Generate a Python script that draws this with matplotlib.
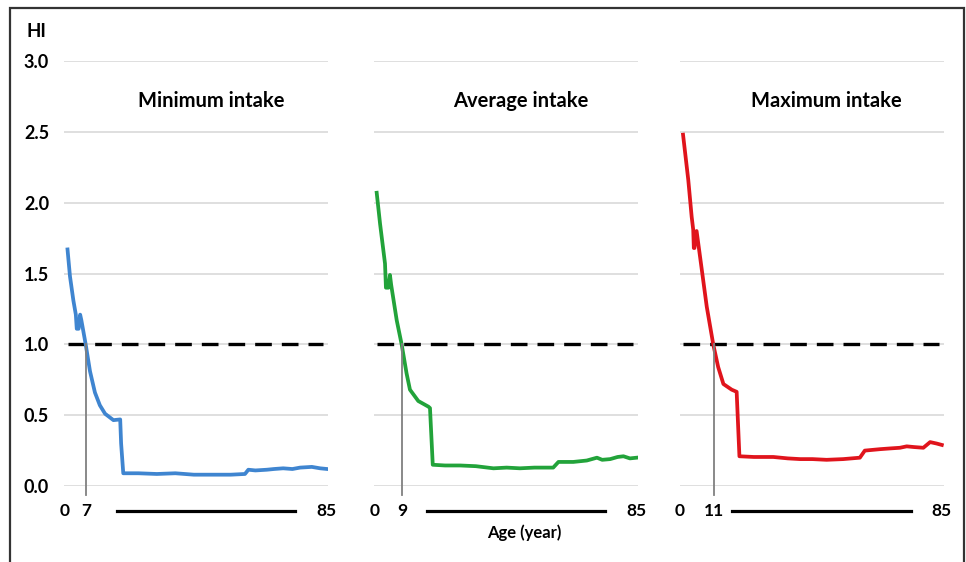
"""Hazard index (HI) by age for minimum, average and maximum intake."""

import matplotlib
matplotlib.use("Agg")
import matplotlib.pyplot as plt
from matplotlib.patches import Rectangle

plt.rcParams["font.family"] = ["Lato", "DejaVu Sans"]

# Panel titles, colours and the age where HI crosses 1.0
titles = ["Minimum intake", "Average intake", "Maximum intake"]
colors = ["#3F85D0", "#22A33A", "#E0141C"]
cross_ages = [7, 9, 11]

# HI curves (age in years, HI)
min_age = [1.0, 1.8, 2.9, 3.7, 4.0, 4.6, 5.1, 5.5, 6.9, 8.3, 9.9, 11.5, 13.2,
           15.9, 18.1, 18.4, 19.1, 24, 30, 36, 42, 48, 54, 58.6, 59.7, 62,
           65.7, 68, 71, 74, 76.5, 80.3, 83, 85.3]
min_hi = [1.67, 1.48, 1.31, 1.21, 1.11, 1.11, 1.21, 1.17, 1.0, 0.81, 0.66,
          0.57, 0.51, 0.465, 0.47, 0.3, 0.09, 0.09, 0.085, 0.09, 0.08, 0.08,
          0.08, 0.085, 0.115, 0.11, 0.115, 0.12, 0.125, 0.12, 0.13, 0.135,
          0.125, 0.12]

avg_age = [0.8, 1.9, 3.5, 3.8, 4.6, 5.1, 5.5, 7.3, 8.9, 10.5, 11.6, 14.3,
           17.6, 18.1, 19.0, 23, 27.9, 33, 38.7, 43, 47.3, 52, 58.1, 59.8,
           64.6, 69, 72.3, 74, 76.6, 79, 80.9, 83, 85.2]
avg_hi = [2.07, 1.85, 1.57, 1.40, 1.40, 1.49, 1.42, 1.17, 1.0, 0.795, 0.68,
          0.6, 0.56, 0.55, 0.15, 0.145, 0.145, 0.14, 0.125, 0.13, 0.125, 0.13,
          0.13, 0.17, 0.17, 0.18, 0.2, 0.185, 0.19, 0.205, 0.21, 0.195, 0.2]

max_age = [1.0, 2.7, 3.8, 4.3, 4.5, 4.7, 5.4, 8.7, 10.8, 12.4, 14.1, 16.8,
           18.4, 19.3, 24, 30.3, 35, 39, 43, 47.6, 53, 58.4, 60, 64.9, 68,
           71.4, 73.6, 76, 79, 81.2, 83.3, 85]
max_hi = [2.48, 2.16, 1.90, 1.81, 1.68, 1.68, 1.80, 1.265, 1.0, 0.84, 0.72,
          0.68, 0.665, 0.21, 0.205, 0.205, 0.195, 0.19, 0.19, 0.185, 0.19,
          0.2, 0.25, 0.26, 0.265, 0.27, 0.28, 0.275, 0.27, 0.31, 0.3, 0.29]

ages = [min_age, avg_age, max_age]
his = [min_hi, avg_hi, max_hi]

y_ticks = [0.0, 0.5, 1.0, 1.5, 2.0, 2.5, 3.0]
threshold = 1.0

fig = plt.figure(figsize=(9.66, 5.62), dpi=100)

# frame round the whole chart
fig.patches.append(Rectangle((0.0104, -0.05), 0.9876, 1.0358,
                             transform=fig.transFigure, fill=False,
                             edgecolor="#333333", linewidth=1.6))

lefts = [0.0667, 0.3874, 0.7039]
for i in range(3):
    ax = fig.add_axes([lefts[i], 0.1352, 0.2733, 0.7562])
    ax.set_xlim(0, 85.7)
    ax.set_ylim(0, 3.0)
    for side in ax.spines.values():
        side.set_visible(False)

    ax.set_yticks(y_ticks)
    ax.grid(axis="y", color="#dcdcdc", linewidth=1.3)
    ax.set_axisbelow(True)
    ax.set_xticks([])
    ax.tick_params(axis="y", length=0, pad=11)
    if i == 0:
        ax.set_yticklabels([f"{v:.1f}" for v in y_ticks],
                           fontsize=13, fontweight="bold")
    else:
        ax.set_yticklabels([])

    # threshold line
    ax.hlines(threshold, 1, 84, colors="black", linewidth=2.4,
              linestyles=(0, (5, 3)), zorder=3)

    ax.plot(ages[i], his[i], color=colors[i], linewidth=2.7, zorder=4)

    # age where HI drops below 1
    ax.plot([cross_ages[i], cross_ages[i]], [threshold, -0.065],
            color="#808080", linewidth=1.3, clip_on=False, zorder=5)

    # age labels and the bar under the axis
    for a in [0, cross_ages[i], 85]:
        ax.text(a, -0.175, str(a), ha="center", va="center",
                fontsize=12.5, fontweight="bold")
    ax.plot([17, 75], [-0.175, -0.175], color="black", linewidth=2.3,
            clip_on=False)

    ax.text(0.555, 2.72, titles[i], transform=ax.get_yaxis_transform(),
            ha="center", va="center", fontsize=14.5, fontweight="bold")

    if i == 1:
        ax.text(0.57, -0.33, "Age (year)", transform=ax.get_yaxis_transform(),
                ha="center", va="center", fontsize=12, fontweight="bold")

fig.text(36.5 / 966, 1 - 31.5 / 562, "HI", ha="center", va="center",
         fontsize=13.5, fontweight="bold")

fig.savefig("out.png", dpi=100)
